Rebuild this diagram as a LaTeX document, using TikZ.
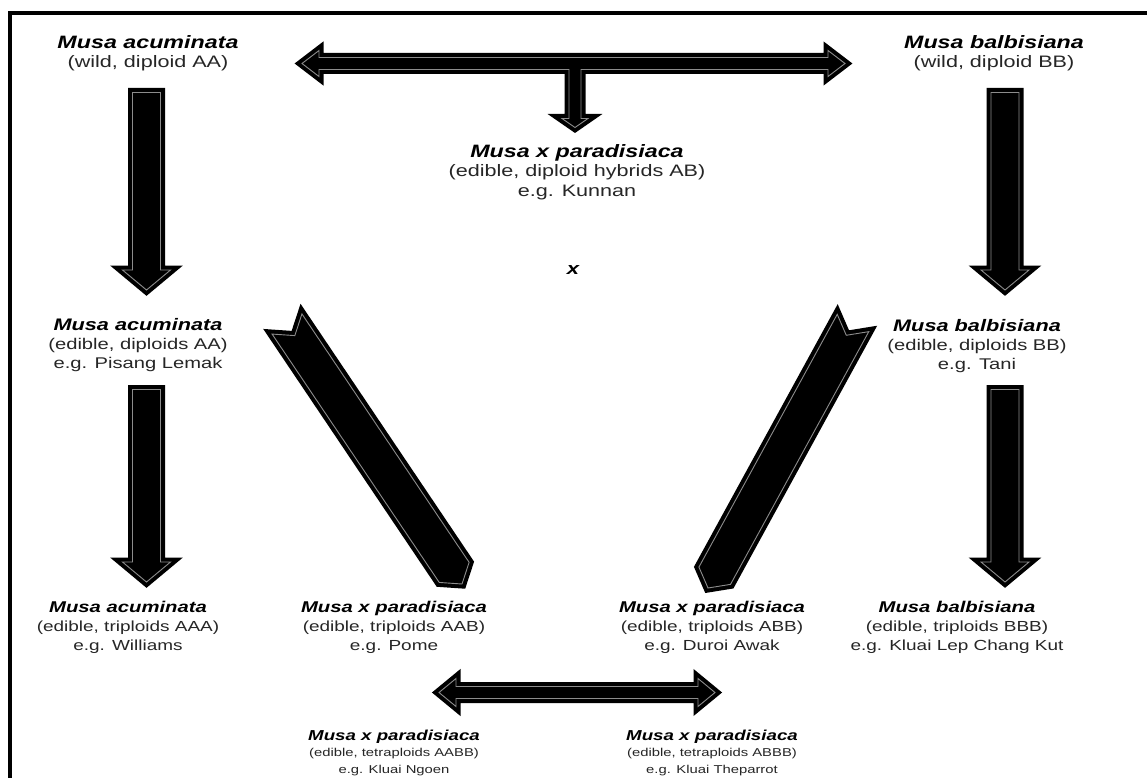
\documentclass[tikz,border=0pt]{standalone}
\usepackage{fontspec}
\setmainfont{Liberation Sans}[FakeStretch=1.3]
\usetikzlibrary{calc,positioning}
\newcommand{\taxon}[2]{{\color{black}\fontsize{#1}{#1}\selectfont\bfseries\itshape #2}}
% straight block arrow: start, tip, shaft half width, head half width, head length
\newcommand{\blockarrow}[5]{\coordinate (hb) at ($(#2)!#5!(#1)$);
\draw[blockarr] ($(#1)!#3!90:(#2)$) -- ($(hb)!#3!90:(#2)$) -- ($(hb)!#4!90:(#2)$) -- (#2) -- ($(hb)!#4!-90:(#2)$) -- ($(hb)!#3!-90:(#2)$) -- ($(#1)!#3!-90:(#2)$) -- cycle;}
% block arrow with a head at both ends
\newcommand{\dblblockarrow}[5]{\coordinate (hb1) at ($(#1)!#5!(#2)$); \coordinate (hb2) at ($(#2)!#5!(#1)$);
\draw[blockarr] (#1) -- ($(hb1)!#4!90:(#2)$) -- ($(hb1)!#3!90:(#2)$) -- ($(hb2)!#3!-90:(#1)$) -- ($(hb2)!#4!-90:(#1)$) -- (#2) -- ($(hb2)!#4!90:(#1)$) -- ($(hb2)!#3!90:(#1)$) -- ($(hb1)!#3!-90:(#2)$) -- ($(hb1)!#4!-90:(#2)$) -- cycle;}
% notched tail, short pointed tip
\newcommand{\chevarrow}[5]{\coordinate (cb) at ($(#2)!#4!(#1)$); \coordinate (cn) at ($(#1)!#5!(#2)$);
\draw[blockarr] ($(#1)!#3!90:(#2)$) -- ($(cb)!#3!90:(#2)$) -- (#2) -- ($(cb)!#3!-90:(#2)$) -- ($(#1)!#3!-90:(#2)$) -- (cn) -- cycle;}
\begin{document}
\begin{tikzpicture}[x=1pt,y=-1pt,
lbl/.style={align=center,inner sep=0pt,anchor=north,text=black!85},
lbltop/.style={lbl,font=\fontsize{16.6}{19.5}\selectfont},
lblmid/.style={lbl,font=\fontsize{15.5}{19}\selectfont},
lbltri/.style={lbl,font=\fontsize{14.6}{19}\selectfont},
lbltet/.style={lbl,font=\fontsize{11.4}{16.5}\selectfont},
blockarr/.style={draw=black!45,line width=0.9pt,line join=miter,preaction={draw=black,fill=black,line width=9pt,line join=miter,miter limit=10}}]
\clip (0,0) rectangle (1147,778);
\fill[white] (0,0) rectangle (1147,778);
\draw[line width=3.5pt] (10,13) rectangle (1170,800);
\node[lbltop] (accwild) at (148,35) {\taxon{17.9}{Musa acuminata}\\(wild, diploid AA)};
\node[lbltop] (balwild) at (994,35) {\taxon{17.9}{Musa balbisiana}\\(wild, diploid BB)};
\node[lbltop] (parAB) at (577,144) {\taxon{17.9}{Musa x paradisiaca}\\(edible, diploid hybrids AB)\\e.g. Kunnan};
\node[inner sep=0pt] (cross) at (573,270) {\taxon{17}{x}};
\node[lblmid] (accAA) at (138,318) {\taxon{16.7}{Musa acuminata}\\(edible, diploids AA)\\e.g. Pisang Lemak};
\node[lblmid] (balBB) at (977,319) {\taxon{16.7}{Musa balbisiana}\\(edible, diploids BB)\\e.g. Tani};
\node[lbltri] (accAAA) at (128,601) {\taxon{15.6}{Musa acuminata}\\(edible, triploids AAA)\\e.g. Williams};
\node[lbltri] (parAAB) at (394,601) {\taxon{15.6}{Musa x paradisiaca}\\(edible, triploids AAB)\\e.g. Pome};
\node[lbltri] (parABB) at (712,601) {\taxon{15.6}{Musa x paradisiaca}\\(edible, triploids ABB)\\e.g. Duroi Awak};
\node[lbltri] (balBBB) at (957,601) {\taxon{15.6}{Musa balbisiana}\\(edible, triploids BBB)\\e.g. Kluai Lep Chang Kut};
\node[lbltet,below=76pt of parAAB] (parAABB) {\taxon{14.4}{Musa x paradisiaca}\\(edible, tetraploids AABB)\\e.g. Kluai Ngoen};
\node[lbltet,below=76pt of parABB] (parABBB) {\taxon{14.4}{Musa x paradisiaca}\\(edible, tetraploids ABBB)\\e.g. Kluai Theparrot};
% wild cross and the hybrid below it
\coordinate (wildL) at (302,63.5); \coordinate (wildR) at (845,63.5); \coordinate (wildD) at (575,127.5);
\draw[blockarr] (wildL) -- (319,50.5) -- (319,57.5) -- (828,57.5) -- (828,50.5) -- (wildR) -- (828,76.5) -- (828,69.5) -- (581,69.5) -- (581,118.5) -- (588,118.5) -- (wildD) -- (562,118.5) -- (569,118.5) -- (569,69.5) -- (319,69.5) -- (319,76.5) -- cycle;
\coordinate (accA) at (146.5,92.5); \coordinate (accB) at (146.5,290); \blockarrow{accA}{accB}{14pt}{24pt}{20pt}
\coordinate (accC) at (146.5,389.5); \coordinate (accD) at (146.5,582); \blockarrow{accC}{accD}{14pt}{24pt}{20pt}
\coordinate (balA) at (1005,92.5); \coordinate (balB) at (1005,290); \blockarrow{balA}{balB}{14pt}{24pt}{20pt}
\coordinate (balC) at (1005,389.5); \coordinate (balD) at (1005,582); \blockarrow{balC}{balD}{14pt}{24pt}{20pt}
\coordinate (dlA) at (287,324); \coordinate (dlB) at (462,584); \chevarrow{dlA}{dlB}{18pt}{14pt}{14pt}
\coordinate (drA) at (853,323); \coordinate (drB) at (708,588); \chevarrow{drA}{drB}{18pt}{14pt}{14pt}
\coordinate (tetL) at (439,692.5); \coordinate (tetR) at (715,692.5); \dblblockarrow{tetL}{tetR}{6pt}{14pt}{17pt}
\end{tikzpicture}
\end{document}
